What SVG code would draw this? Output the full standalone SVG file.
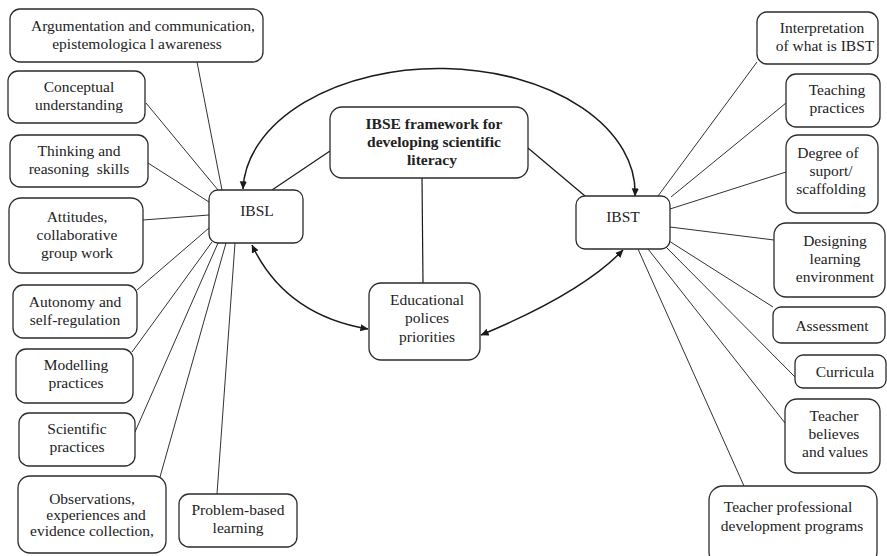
<svg xmlns="http://www.w3.org/2000/svg" width="887" height="556" viewBox="0 0 887 556">
  <style>
    .box { fill: #fff; stroke: #2b2b2b; stroke-width: 1.3; }
    text { font-size: 15.5px; fill: #222; text-anchor: middle; }
    .b { font-weight: bold; }
    .ln { stroke: #1a1a1a; stroke-width: 0.9; fill: none; }
    .arc { stroke: #1a1a1a; stroke-width: 1.5; fill: none; marker-start: url(#ah); marker-end: url(#ah); }
  </style>
  <defs>
    <marker id="ah" viewBox="0 0 10 10" refX="9.5" refY="5" markerWidth="8" markerHeight="8" markerUnits="userSpaceOnUse" orient="auto-start-reverse">
      <path d="M0,0.5 L10,5 L0,9.5 Z" fill="#1a1a1a"/>
    </marker>
  </defs>
  <rect width="887" height="556" fill="#fff"/>

  <!-- connectors -->
  <g id="connectors">
    <!-- learning aspects to IBSL -->
    <line class="ln" x1="197" y1="62" x2="222" y2="190"/>
    <line class="ln" x1="146" y1="103" x2="218" y2="190"/>
    <line class="ln" x1="148" y1="163" x2="209" y2="202"/>
    <line class="ln" x1="143" y1="220" x2="209" y2="215"/>
    <line class="ln" x1="137" y1="290" x2="209" y2="228"/>
    <line class="ln" x1="132" y1="352" x2="212" y2="242"/>
    <line class="ln" x1="135" y1="432" x2="218" y2="243"/>
    <line class="ln" x1="160" y1="477" x2="226" y2="243"/>
    <line class="ln" x1="217" y1="494" x2="235" y2="243"/>
    <!-- teaching aspects to IBST -->
    <line class="ln" x1="757" y1="62" x2="658" y2="196"/>
    <line class="ln" x1="786" y1="103" x2="671" y2="197"/>
    <line class="ln" x1="786" y1="172" x2="670" y2="209"/>
    <line class="ln" x1="774" y1="240" x2="670" y2="227"/>
    <line class="ln" x1="773" y1="307" x2="669" y2="241"/>
    <line class="ln" x1="795" y1="377" x2="666" y2="247"/>
    <line class="ln" x1="785" y1="423" x2="648" y2="249"/>
    <line class="ln" x1="744" y1="486" x2="638" y2="249"/>
    <!-- framework links -->
    <line class="ln" x1="330" y1="151" x2="272" y2="190" style="stroke-width:1.2"/>
    <line class="ln" x1="528" y1="148" x2="585" y2="196" style="stroke-width:1.2"/>
    <line class="ln" x1="422" y1="178" x2="423" y2="283" style="stroke-width:1.2"/>
    <!-- curved arrows -->
    <path class="arc" d="M243,189 A196,124 0 0 1 635,196"/>
    <path class="arc" d="M252,245 Q285,315 368,329"/>
    <path class="arc" d="M481,335 Q582,293 623,250"/>
  </g>

  <g font-family="'Liberation Serif', Tinos, Times, 'Times New Roman', serif">
  <!-- central nodes -->
  <g id="ibse">
    <rect class="box" x="330" y="107" width="198" height="71" rx="12"/>
    <text class="b" x="434" y="129">IBSE framework for</text>
    <text class="b" x="434" y="147">developing scientific</text>
    <text class="b" x="432" y="165">literacy</text>
  </g>
  <g id="ibsl">
    <rect class="box" x="209" y="190" width="94" height="53" rx="9"/>
    <text x="257" y="216">IBSL</text>
  </g>
  <g id="ibst">
    <rect class="box" x="576" y="196" width="94" height="53" rx="9"/>
    <text x="623" y="222">IBST</text>
  </g>
  <g id="policies">
    <rect class="box" x="369" y="283" width="111" height="77" rx="12"/>
    <text x="427" y="305">Educational</text>
    <text x="427" y="323">polices</text>
    <text x="427" y="342">priorities</text>
  </g>

  <!-- learning side -->
  <g id="argumentation">
    <rect class="box" x="10" y="9" width="253" height="53" rx="10"/>
    <text x="143" y="31">Argumentation and communication,</text>
    <text x="137" y="49">epistemologica l awareness</text>
  </g>
  <g id="conceptual">
    <rect class="box" x="8" y="71" width="137" height="52" rx="10"/>
    <text x="79" y="92">Conceptual</text>
    <text x="79" y="110">understanding</text>
  </g>
  <g id="thinking">
    <rect class="box" x="10" y="135" width="138" height="52" rx="10"/>
    <text x="79" y="156">Thinking and</text>
    <text x="79" y="174" xml:space="preserve">reasoning  skills</text>
  </g>
  <g id="attitudes">
    <rect class="box" x="9" y="198" width="134" height="75" rx="12"/>
    <text x="77" y="222">Attitudes,</text>
    <text x="77" y="240">collaborative</text>
    <text x="77" y="258">group work</text>
  </g>
  <g id="autonomy">
    <rect class="box" x="13" y="285" width="124" height="53" rx="10"/>
    <text x="75" y="307">Autonomy and</text>
    <text x="75" y="325">self-regulation</text>
  </g>
  <g id="modelling">
    <rect class="box" x="16" y="349" width="117" height="54" rx="10"/>
    <text x="76" y="370">Modelling</text>
    <text x="76" y="388">practices</text>
  </g>
  <g id="scientific">
    <rect class="box" x="19" y="413" width="116" height="53" rx="10"/>
    <text x="77" y="434">Scientific</text>
    <text x="77" y="452">practices</text>
  </g>
  <g id="observations">
    <rect class="box" x="18" y="476" width="148" height="77" rx="12"/>
    <text x="92" y="504">Observations,</text>
    <text x="96" y="520">experiences and</text>
    <text x="92" y="536">evidence collection,</text>
  </g>
  <g id="problem">
    <rect class="box" x="179" y="494" width="118" height="53" rx="10"/>
    <text x="238" y="515">Problem-based</text>
    <text x="238" y="533">learning</text>
  </g>

  <!-- teaching side -->
  <g id="interpretation">
    <rect class="box" x="757" y="12" width="121" height="52" rx="10"/>
    <text x="822" y="33">Interpretation</text>
    <text x="825" y="51">of what is IBST</text>
  </g>
  <g id="teaching">
    <rect class="box" x="786" y="74" width="94" height="53" rx="10"/>
    <text x="837" y="95">Teaching</text>
    <text x="837" y="113">practices</text>
  </g>
  <g id="degree">
    <rect class="box" x="786" y="135" width="92" height="78" rx="12"/>
    <text x="828" y="158">Degree of</text>
    <text x="831" y="176">suport/</text>
    <text x="831" y="194">scaffolding</text>
  </g>
  <g id="designing">
    <rect class="box" x="774" y="223" width="111" height="74" rx="12"/>
    <text x="835" y="246">Designing</text>
    <text x="835" y="264">learning</text>
    <text x="835" y="282">environment</text>
  </g>
  <g id="assessment">
    <rect class="box" x="773" y="307" width="112" height="36" rx="8"/>
    <text x="832" y="331">Assessment</text>
  </g>
  <g id="curricula">
    <rect class="box" x="795" y="355" width="91" height="33" rx="8"/>
    <text x="845" y="377">Curricula</text>
  </g>
  <g id="believes">
    <rect class="box" x="785" y="399" width="95" height="74" rx="12"/>
    <text x="834" y="421">Teacher</text>
    <text x="834" y="439">believes</text>
    <text x="835" y="457">and values</text>
  </g>
  <g id="professional">
    <rect class="box" x="709" y="486" width="168" height="80" rx="14"/>
    <text x="788" y="512">Teacher professional</text>
    <text x="792" y="531">development programs</text>
  </g>
  </g>
</svg>
